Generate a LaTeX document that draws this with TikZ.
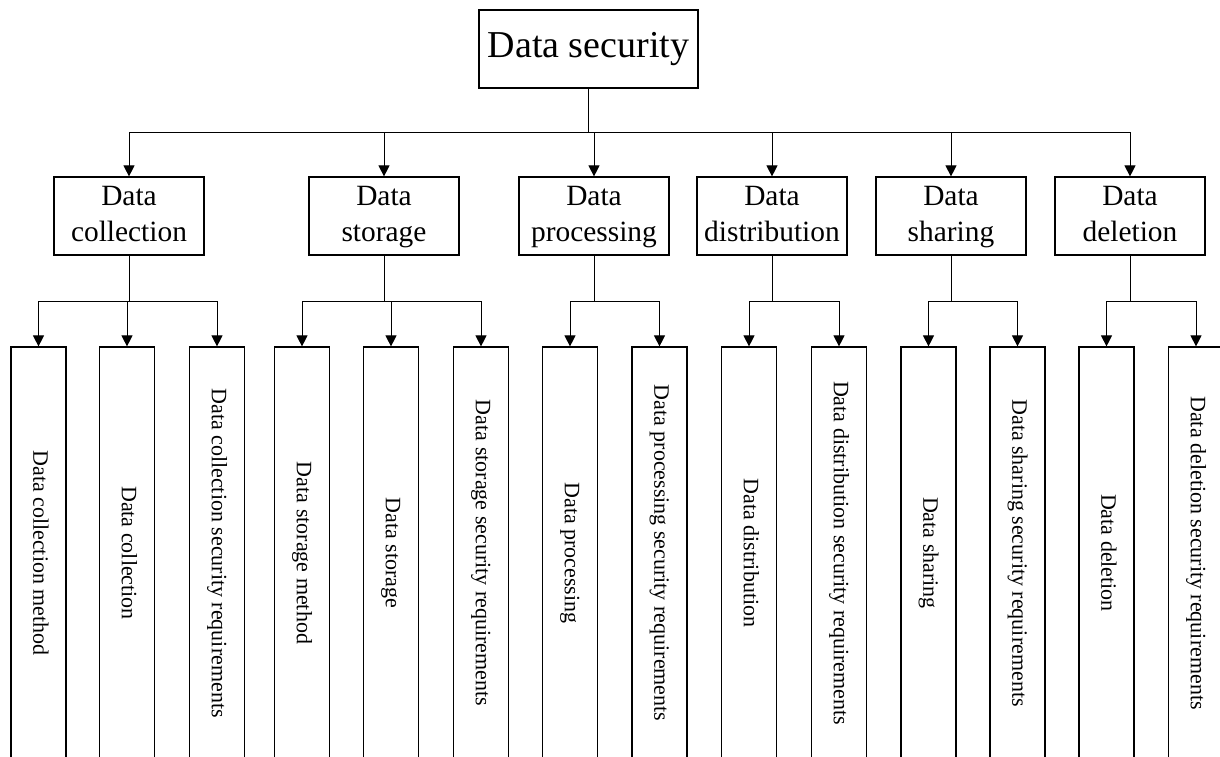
\documentclass[tikz,border=0pt]{standalone}
\usepackage{fontspec}
\setmainfont{Liberation Serif}
\usetikzlibrary{arrows.meta}
\begin{document}
\begin{tikzpicture}[x=0.5pt,y=-0.5pt,
  box/.style={draw, line width=0.6pt, inner sep=0pt, fill=white},
  rootbox/.style={box, minimum width=109.5pt, minimum height=39pt, font=\fontsize{19}{22}\selectfont},
  midbox/.style={box, minimum width=75pt, minimum height=39pt, align=center, font=\fontsize{14.7}{18}\selectfont},
  leafbox/.style={box, rotate=-90, minimum width=206pt, minimum height=27.5pt, font=\fontsize{11}{13}\selectfont},
  arr/.style={line width=0.5pt, -{Triangle[width=5.5pt,length=5.5pt]}},
  ln/.style={line width=0.5pt}]
\useasboundingbox (0,0) rectangle (1220,756);
\clip (0,0) rectangle (1220,756);

% root
\node[rootbox] (root) at (588.5,49) {\strut Data security};

% level 2
\node[midbox] (m1) at (129,216) {\strut Data\\\strut collection};
\node[midbox] (m2) at (384,216) {\strut Data\\\strut storage};
\node[midbox] (m3) at (594,216) {\strut Data\\\strut processing};
\node[midbox] (m4) at (772,216) {\strut Data\\\strut distribution};
\node[midbox] (m5) at (951,216) {\strut Data\\\strut sharing};
\node[midbox] (m6) at (1130,216) {\strut Data\\\strut deletion};

% leaves
\node[leafbox] (k1) at (38.5,553) {\strut Data collection method};
\node[leafbox] (k2) at (127,553) {\strut Data collection};
\node[leafbox] (k3) at (217,553) {\strut Data collection security requirements};
\node[leafbox] (k4) at (302,553) {\strut Data storage method};
\node[leafbox] (k5) at (391,553) {\strut Data storage};
\node[leafbox] (k6) at (481,553) {\strut Data storage security requirements};
\node[leafbox] (k7) at (570,553) {\strut Data processing};
\node[leafbox] (k8) at (659.5,553) {\strut Data processing security requirements};
\node[leafbox] (k9) at (749,553) {\strut Data distribution};
\node[leafbox] (k10) at (839,553) {\strut Data distribution security requirements};
\node[leafbox] (k11) at (928.5,553) {\strut Data sharing};
\node[leafbox] (k12) at (1017.5,553) {\strut Data sharing security requirements};
\node[leafbox] (k13) at (1106.5,553) {\strut Data deletion};
\node[leafbox] (k14) at (1196,553) {\strut Data deletion security requirements};

% root connectors
\coordinate (rj) at (588.5,132);
\draw[ln] (root.south) -- (rj);
\foreach \m in {m1,m2,m3,m4,m5,m6} \draw[arr] (rj) -| (\m.north);

% group connectors
\coordinate (j1) at (129,301);
\coordinate (j2) at (384,301);
\coordinate (j3) at (594,301);
\coordinate (j4) at (772,301);
\coordinate (j5) at (951,301);
\coordinate (j6) at (1130,301);
\draw[ln] (m1.south) -- (j1);
\draw[ln] (m2.south) -- (j2);
\draw[ln] (m3.south) -- (j3);
\draw[ln] (m4.south) -- (j4);
\draw[ln] (m5.south) -- (j5);
\draw[ln] (m6.south) -- (j6);
\foreach \k in {k1,k2,k3} \draw[arr] (j1) -| (\k.west);
\foreach \k in {k4,k5,k6} \draw[arr] (j2) -| (\k.west);
\foreach \k in {k7,k8} \draw[arr] (j3) -| (\k.west);
\foreach \k in {k9,k10} \draw[arr] (j4) -| (\k.west);
\foreach \k in {k11,k12} \draw[arr] (j5) -| (\k.west);
\foreach \k in {k13,k14} \draw[arr] (j6) -| (\k.west);
\end{tikzpicture}
\end{document}
